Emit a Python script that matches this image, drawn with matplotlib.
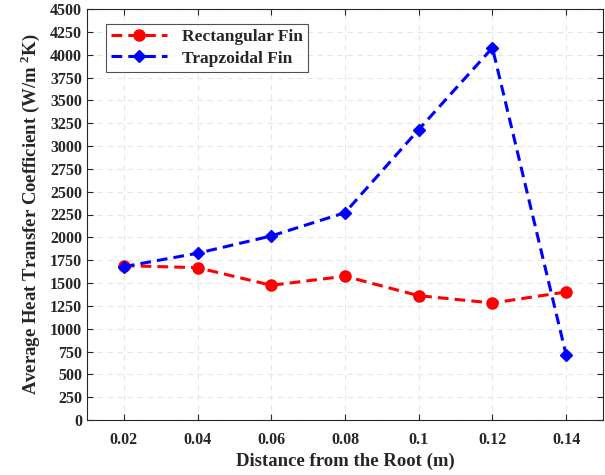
import matplotlib; matplotlib.use("Agg")
import matplotlib.pyplot as plt

dist = [0.02, 0.04, 0.06, 0.08, 0.10, 0.12, 0.14]
h_rect = [1690, 1668, 1475, 1574, 1361, 1281, 1402]
h_trap = [1679, 1826, 2015, 2270, 3180, 4075, 712]
yticks = list(range(0, 4501, 250))
xtick_labels = ["0.02", "0.04", "0.06", "0.08", "0.1", "0.12", "0.14"]

plt.rcParams["font.family"] = "Liberation Serif"
plt.rcParams["font.weight"] = "bold"
plt.rcParams["mathtext.fontset"] = "custom"
plt.rcParams["mathtext.bf"] = "Liberation Serif:bold"
plt.rcParams["mathtext.rm"] = "Liberation Serif:bold"
txt = "#262626"

fig = plt.figure(figsize=(6.05, 4.75), dpi=100)
ax = fig.add_axes([87 / 605, 55 / 475, 516 / 605, 411 / 475])

ax.plot(dist, h_rect, "--o", color="red", lw=2.2, ms=8, dashes=(3.5, 2), label="Rectangular Fin")
ax.plot(dist, h_trap, "--D", color="blue", lw=2.2, ms=6.5, dashes=(3.5, 2), label="Trapzoidal Fin")

ax.set_xlim(0.01, 0.15)
ax.set_ylim(0, 4500)
ax.set_xticks(dist)
ax.set_xticklabels(xtick_labels)
ax.set_yticks(yticks)
ax.grid(True, ls=(0, (5, 4)), color="#e6e6e6", lw=0.8)
ax.tick_params(direction="in", length=4, colors=txt, labelsize=11.5, top=True, right=True,
               labeltop=False, labelright=False, width=0.8)
ax.tick_params(axis="x", pad=9)
for lab in ax.get_xticklabels() + ax.get_yticklabels():
    lab.set_fontweight("bold")
for s in ax.spines.values():
    s.set_color(txt); s.set_linewidth(0.8)

ax.set_xlabel("Distance from the Root (m)", fontsize=13.5, fontweight="bold", color=txt, labelpad=3)
ax.set_ylabel("Average Heat Transfer Coefficient (W/m $^{\\mathbf{2}}$K)", fontsize=13.5,
              fontweight="bold", color=txt, labelpad=6)

leg = ax.legend(loc="upper left", bbox_to_anchor=(0.02, 0.985), fontsize=12.5, frameon=True,
                fancybox=False, edgecolor=txt, handlelength=3.2, borderpad=0.3, labelspacing=0.3,
                handletextpad=0.9)
leg.get_frame().set_linewidth(0.8)
for t in leg.get_texts():
    t.set_color(txt)

fig.savefig("out.png", dpi=100)
